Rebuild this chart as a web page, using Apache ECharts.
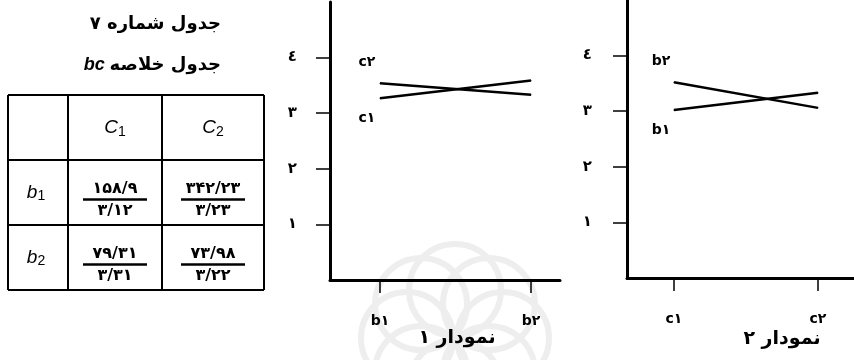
<!DOCTYPE html>
<html>
<head>
<meta charset="utf-8">
<script src="https://cdn.jsdelivr.net/npm/echarts@6/dist/echarts.min.js"></script>
<style>
html, body { margin: 0; padding: 0; background: #fff; }
#chart { width: 854px; height: 360px; }
</style>
</head>
<body>
<div id="chart"></div>
<script>
// plot 1: means at b1, b2 - one line for each c
const plot1Cats = ['b۱', 'b۲'];
const plot1C1 = [3.27, 3.59];
const plot1C2 = [3.54, 3.33];
// plot 2: means at c1, c2 - one line for each b
const plot2Cats = ['c۱', 'c۲'];
const plot2B1 = [3.02, 3.33];
const plot2B2 = [3.52, 3.06];
const yTicks = [1, 2, 3, 4];
const yTickLabels = ['۱', '۲', '۳', '٤'];
const plotTitles = ['نمودار ۱', 'نمودار ۲'];
// table 7: bc summary, sum over mean
const tableTitle = 'جدول شماره ۷';
const tableSubTitle = 'جدول خلاصه';
const tableCols = ['1', '2'];
const tableRows = ['1', '2'];
const tableSums = [['۱۵۸/۹', '۳۴۲/۲۳'], ['۷۹/۳۱', '۷۳/۹۸']];
const tableMeans = [['۳/۱۲', '۳/۲۳'], ['۳/۳۱', '۳/۲۲']];

const FA = 'DejaVu Sans';
const LAT = 'Liberation Sans';

const chart = echarts.init(document.getElementById('chart'), null, { renderer: 'canvas' });

function lineSeries(name, vals, gridIdx, above) {
  const data = vals.map((v, i) => [i, v]);
  data[0] = {
    value: data[0],
    label: {
      show: true,
      formatter: name,
      position: above ? 'top' : 'bottom',
      offset: [-13, above ? -8 : 8],
      color: '#000',
      fontFamily: FA,
      fontWeight: 'bold',
      fontSize: 14
    }
  };
  return {
    name: name,
    type: 'line',
    xAxisIndex: gridIdx,
    yAxisIndex: gridIdx,
    data: data,
    symbol: 'circle',
    symbolSize: 1,
    itemStyle: { color: '#000' },
    lineStyle: { color: '#000', width: 2.5 },
    silent: true
  };
}

function xAxisFor(gridIdx, cats, min, max) {
  return {
    type: 'value',
    gridIndex: gridIdx,
    min: min,
    max: max,
    splitLine: { show: false },
    axisLine: { onZero: false, lineStyle: { color: '#000', width: 3 } },
    axisTick: { customValues: cats.map((c, i) => i), length: 13, lineStyle: { color: '#000', width: 1.5 } },
    axisLabel: {
      customValues: cats.map((c, i) => i),
      formatter: (v) => cats[Math.round(v)],
      margin: 34,
      color: '#000',
      fontFamily: FA,
      fontWeight: 'bold',
      fontSize: 14
    }
  };
}

function yAxisFor(gridIdx, margin) {
  return {
    type: 'value',
    gridIndex: gridIdx,
    min: 0,
    max: 5,
    splitLine: { show: false },
    axisLine: { onZero: false, lineStyle: { color: '#000', width: 3 } },
    axisTick: { customValues: yTicks, length: 14, lineStyle: { color: '#000', width: 1.5 } },
    axisLabel: {
      customValues: yTicks,
      formatter: (v) => yTickLabels[yTicks.indexOf(v)],
      margin: margin,
      color: '#000',
      fontFamily: FA,
      fontWeight: 'bold',
      fontSize: 15
    }
  };
}

// ---- table drawn with graphic elements ----
const colX = [8, 68, 162, 264];
const rowY = [95, 160, 225, 290];
const graphics = [];

// faint watermark behind plot 1
for (let k = 0; k < 8; k++) {
  const a = k * Math.PI / 4;
  graphics.push({
    type: 'circle', z: -10, silent: true,
    shape: { cx: 455 + 48 * Math.cos(a), cy: 338 + 48 * Math.sin(a), r: 46 },
    style: { fill: 'none', stroke: '#eeeeee', lineWidth: 6 }
  });
}

colX.forEach((x) => graphics.push({
  type: 'line', shape: { x1: x, y1: rowY[0], x2: x, y2: rowY[3] },
  style: { stroke: '#000', lineWidth: 2 }
}));
rowY.forEach((y) => graphics.push({
  type: 'line', shape: { x1: colX[0], y1: y, x2: colX[3], y2: y },
  style: { stroke: '#000', lineWidth: 2 }
}));

function txt(x, y, text, opts) {
  return {
    type: 'text', x: x, y: y,
    style: Object.assign({
      text: text, fill: '#000', align: 'center', verticalAlign: 'middle',
      textAlign: 'center', textVerticalAlign: 'middle',
      fontFamily: FA, fontWeight: 'bold', fontSize: 14
    }, opts || {})
  };
}

const subRich = {
  m: { fontFamily: LAT, fontStyle: 'italic', fontSize: 19, lineHeight: 22 },
  s: { fontFamily: LAT, fontSize: 14, lineHeight: 22, padding: [8, 0, 0, 0] }
};

graphics.push(txt(221, 24, tableTitle, { align: 'right', textAlign: 'right', fontSize: 18 }));
graphics.push(txt(221, 65, '{b|bc} {a|' + tableSubTitle + '}', {
  align: 'right', textAlign: 'right',
  rich: {
    a: { fontFamily: FA, fontWeight: 'bold', fontSize: 18 },
    b: { fontFamily: LAT, fontWeight: 'bold', fontStyle: 'italic', fontSize: 18 }
  }
}));

tableCols.forEach((c, j) => {
  const cx = (colX[j + 1] + colX[j + 2]) / 2;
  graphics.push(txt(cx, 128, '{m|C}{s|' + c + '}', { rich: subRich }));
});
tableRows.forEach((r, i) => {
  const cy = (rowY[i + 1] + rowY[i + 2]) / 2;
  graphics.push(txt(36, cy, '{m|b}{s|' + r + '}', { rich: subRich }));
  tableCols.forEach((c, j) => {
    const cx = (colX[j + 1] + colX[j + 2]) / 2;
    graphics.push(txt(cx, cy - 4, tableSums[i][j], { fontSize: 16 }));
    graphics.push({
      type: 'line', shape: { x1: cx - 32, y1: cy + 7, x2: cx + 32, y2: cy + 7 },
      style: { stroke: '#000', lineWidth: 2.5 }
    });
    graphics.push(txt(cx, cy + 18, tableMeans[i][j], { fontSize: 16 }));
  });
});

graphics.push(txt(457, 338, plotTitles[0], { fontSize: 19 }));
graphics.push(txt(782, 339, plotTitles[1], { fontSize: 19 }));

const option = {
  backgroundColor: '#fff',
  animation: false,
  grid: [
    { left: 330, top: 2, width: 230, height: 278 },
    { left: 627, top: 0, width: 227, height: 278 }
  ],
  xAxis: [
    xAxisFor(0, plot1Cats, -0.331, 1.192),
    xAxisFor(1, plot2Cats, -0.326, 1.25)
  ],
  yAxis: [
    yAxisFor(0, 33),
    yAxisFor(1, 35)
  ],
  series: [
    lineSeries('c۲', plot1C2, 0, true),
    lineSeries('c۱', plot1C1, 0, false),
    lineSeries('b۲', plot2B2, 1, true),
    lineSeries('b۱', plot2B1, 1, false)
  ],
  graphic: graphics
};

chart.setOption(option);
</script>
</body>
</html>
